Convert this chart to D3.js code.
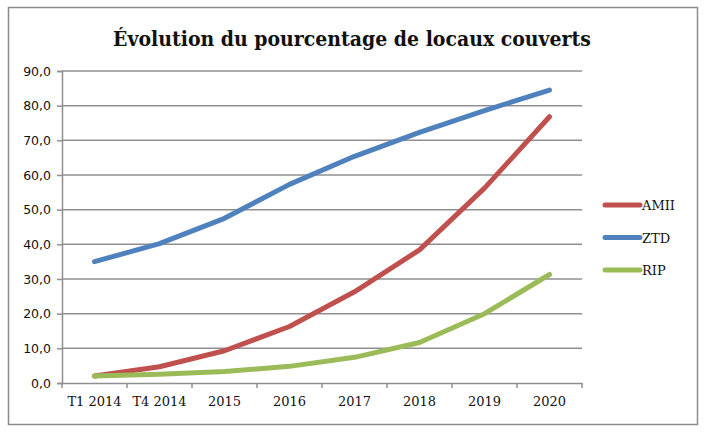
<!DOCTYPE html>
<html>
<head>
<meta charset="utf-8">
<script src="https://cdn.jsdelivr.net/npm/d3@7"></script>
<style>
  body { margin: 0; background: #fff; }
</style>
</head>
<body>
<svg id="chart"></svg>
<script>
// values
const periods = ["T1 2014", "T4 2014", "2015", "2016", "2017", "2018", "2019", "2020"];
const amii = [2.0, 4.7, 9.3, 16.3, 26.3, 38.4, 56.2, 76.8];
const ztd = [35.0, 40.2, 47.5, 57.3, 65.4, 72.3, 78.6, 84.5];
const rip = [2.0, 2.5, 3.3, 4.8, 7.4, 11.7, 20.0, 31.3];
const yTicks = [0, 10, 20, 30, 40, 50, 60, 70, 80, 90];

const series = [
    { name: "AMII", values: amii, color: "#C0504D" },
    { name: "ZTD", values: ztd, color: "#4F81BD" },
    { name: "RIP", values: rip, color: "#9BBB59" }
];

const width = 705;
const height = 438;
const margin = { top: 71, right: 123, bottom: 55, left: 62 };

const svg = d3.select("#chart")
    .attr("width", width)
    .attr("height", height);

// outer frame
svg.append("rect")
    .attr("x", 8.5).attr("y", 7.5)
    .attr("width", 689).attr("height", 417)
    .attr("fill", "#fff")
    .attr("stroke", "#8c8c8c")
    .attr("stroke-width", 1.5);

svg.append("text")
    .attr("x", 352)
    .attr("y", 46)
    .attr("text-anchor", "middle")
    .attr("font-family", "'DejaVu Serif', serif")
    .attr("font-stretch", "condensed")
    .attr("font-weight", "bold")
    .attr("font-size", 21)
    .attr("fill", "#111")
    .text("Évolution du pourcentage de locaux couverts");

const x = d3.scaleBand()
    .domain(periods)
    .range([margin.left, width - margin.right]);

const y = d3.scaleLinear()
    .domain([0, 90])
    .range([height - margin.bottom, margin.top]);

// gridlines
svg.append("g")
    .selectAll("line")
    .data(yTicks.filter(d => d > 0))
    .enter()
    .append("line")
    .attr("x1", margin.left)
    .attr("x2", width - margin.right)
    .attr("y1", d => y(d))
    .attr("y2", d => y(d))
    .attr("stroke", "#8f8f8f")
    .attr("stroke-width", 1.5);

// y axis
const yAxis = svg.append("g")
    .attr("transform", `translate(${margin.left},0)`)
    .call(d3.axisLeft(y).tickValues(yTicks).tickSize(5).tickPadding(6)
        .tickFormat(d => d3.format(".1f")(d).replace(".", ",")));
yAxis.selectAll("text")
    .attr("font-family", "'DejaVu Sans', sans-serif")
    .attr("font-size", 12.5)
    .attr("fill", "#111");
yAxis.selectAll("line, path").attr("stroke", "#8f8f8f").attr("stroke-width", 1.5);

// x axis, ticks on band boundaries
const xAxis = svg.append("g")
    .attr("transform", `translate(0,${height - margin.bottom})`)
    .call(d3.axisBottom(x).tickSize(0).tickPadding(14));
xAxis.selectAll("text")
    .attr("font-family", "'DejaVu Serif', serif")
    .attr("font-size", 13)
    .attr("fill", "#111");
xAxis.select("path").attr("stroke", "#8f8f8f").attr("stroke-width", 1.5);
xAxis.selectAll(".bound")
    .data(periods.map(p => x(p)).concat([x.range()[1]]))
    .enter()
    .append("line")
    .attr("x1", d => d).attr("x2", d => d)
    .attr("y1", 0).attr("y2", 5)
    .attr("stroke", "#8f8f8f")
    .attr("stroke-width", 1.5);

const line = d3.line()
    .x((d, i) => x(periods[i]) + x.bandwidth() / 2)
    .y(d => y(d));

svg.append("g")
    .selectAll("path")
    .data(series)
    .enter()
    .append("path")
    .attr("d", d => line(d.values))
    .attr("fill", "none")
    .attr("stroke", d => d.color)
    .attr("stroke-width", 5)
    .attr("stroke-linecap", "round")
    .attr("stroke-linejoin", "round");

// legend
const legend = svg.append("g")
    .selectAll("g")
    .data(series)
    .enter()
    .append("g")
    .attr("transform", (d, i) => `translate(605,${205 + i * 32.5})`);

legend.append("line")
    .attr("x1", 0).attr("x2", 35)
    .attr("stroke", d => d.color)
    .attr("stroke-width", 5)
    .attr("stroke-linecap", "round");

legend.append("text")
    .attr("x", 37)
    .attr("y", 5)
    .attr("font-family", "'DejaVu Serif', serif")
    .attr("font-size", 13)
    .attr("fill", "#111")
    .text(d => d.name);
</script>
</body>
</html>
